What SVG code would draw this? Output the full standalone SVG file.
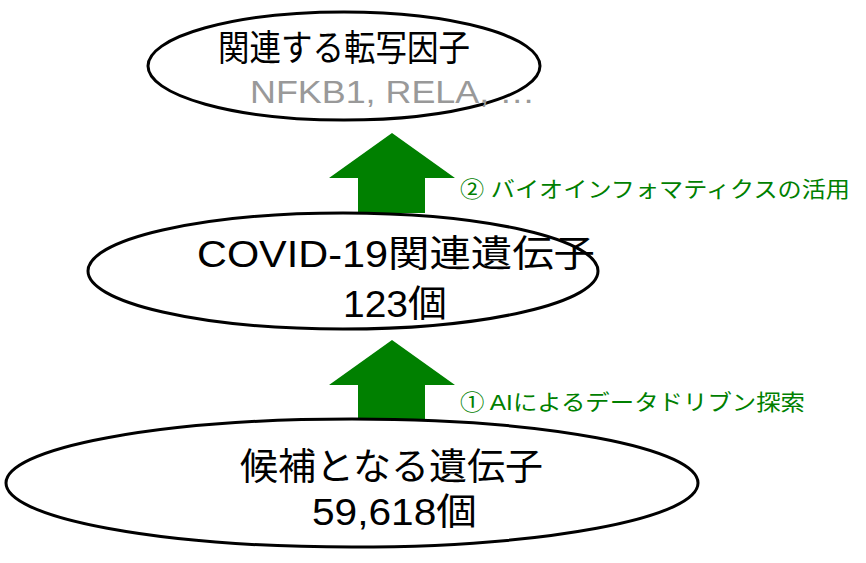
<svg xmlns="http://www.w3.org/2000/svg" width="866" height="563" viewBox="0 0 866 563">
<style>
.n{fill:#fff;stroke:#000;stroke-width:3}
.t{font-family:"Liberation Sans","Noto Sans CJK JP",sans-serif;font-size:37px;fill:#000}
.g{font-family:"Liberation Sans","Noto Sans CJK JP",sans-serif;font-size:22px;fill:#008000}
.a{fill:#008000}
</style>
<rect width="866" height="563" fill="#fff"/>
<g id="connectors">
<polygon class="a" points="392,133 455,178 425,178 425,213 358,213 358,178 329,178"/>
<polygon class="a" points="392,340 455,385 425,385 425,420 358,420 358,385 329,385"/>
<text class="g" x="460" y="197" textLength="390" lengthAdjust="spacingAndGlyphs">② バイオインフォマティクスの活用</text>
<text class="g" x="460" y="410" textLength="345" lengthAdjust="spacingAndGlyphs">① AIによるデータドリブン探索</text>
</g>
<g id="tf">
<ellipse class="n" cx="344" cy="66" rx="196" ry="54"/>
<text class="t" x="218" y="61" style="font-size:36px" textLength="252" lengthAdjust="spacingAndGlyphs">関連する転写因子</text>
<text class="t" x="250" y="103" style="font-size:31px;fill:#999" textLength="285" lengthAdjust="spacingAndGlyphs">NFKB1, RELA, …</text>
</g>
<g id="covid">
<ellipse class="n" cx="343" cy="271" rx="255" ry="58"/>
<text class="t" x="197" y="267" textLength="398" lengthAdjust="spacingAndGlyphs">COVID-19関連遺伝子</text>
<text class="t" x="343" y="317" textLength="104" lengthAdjust="spacingAndGlyphs">123個</text>
</g>
<g id="cand">
<ellipse class="n" cx="352" cy="483" rx="346" ry="64"/>
<text class="t" x="240" y="480" textLength="303" lengthAdjust="spacingAndGlyphs">候補となる遺伝子</text>
<text class="t" x="312" y="525" textLength="165" lengthAdjust="spacingAndGlyphs">59,618個</text>
</g>
</svg>
